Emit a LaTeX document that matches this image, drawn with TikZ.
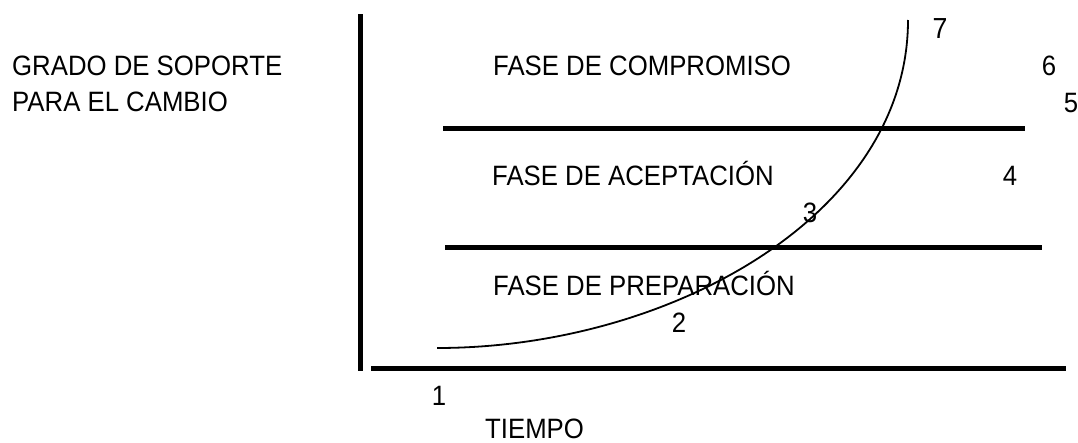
\documentclass[tikz,border=0pt]{standalone}
\usepackage{fontspec}
\setmainfont{Liberation Sans}[FakeStretch=0.92]
\tikzset{
  lbl/.style={inner sep=0pt,anchor=base west,font=\fontsize{28}{33}\selectfont},
  num/.style={inner sep=0pt,anchor=base,font=\fontsize{28}{33}\selectfont},
  bar/.style={line width=5pt},
}
\begin{document}
\begin{tikzpicture}[x=1pt,y=-1pt]

  \useasboundingbox (0,0) rectangle (1078,442);

  % draw axes
  \coordinate (ytop) at (360,14);
  \coordinate (ybot) at (360,371);
  \coordinate (xleft) at (371,368);
  \coordinate (xright) at (1066,368);
  \draw[bar] (ytop) -- (ybot);
  \draw[bar] (xleft) -- (xright);

  % phase boundaries
  \coordinate (upA) at (443,128);
  \coordinate (upB) at (1025,128);
  \coordinate (lowA) at (445,247);
  \coordinate (lowB) at (1042,247);
  \draw[bar] (upA) -- (upB);
  \draw[bar] (lowA) -- (lowB);

  % draw curve
  \coordinate (cstart) at (437,348);
  \coordinate (cend) at (908,20);
  \draw[line width=1.8pt] (cstart) .. controls (670,348) and (908,215) .. (cend);

  % labels
  \node[lbl] (soporte) at (12,75) {GRADO DE SOPORTE};
  \node[lbl] (cambio) at (12,111) {PARA EL CAMBIO};
  \node[lbl] (compromiso) at (493,75) {FASE DE COMPROMISO};
  \node[lbl] (aceptacion) at (492,185) {FASE DE ACEPTACIÓN};
  \node[lbl] (preparacion) at (493,295) {FASE DE PREPARACIÓN};
  \node[lbl] (tiempo) at (485,438) {TIEMPO};

  % point numbers
  \node[num] (n1) at (439,405) {1};
  \node[num] (n2) at (679,332) {2};
  \node[num] (n3) at (810,222) {3};
  \node[num] (n4) at (1010,185) {4};
  \node[num] (n5) at (1071,112) {5};
  \node[num] (n6) at (1049,75) {6};
  \node[num,font=\fontsize{29}{33}\selectfont] (n7) at (940,38) {7};

\end{tikzpicture}
\end{document}
